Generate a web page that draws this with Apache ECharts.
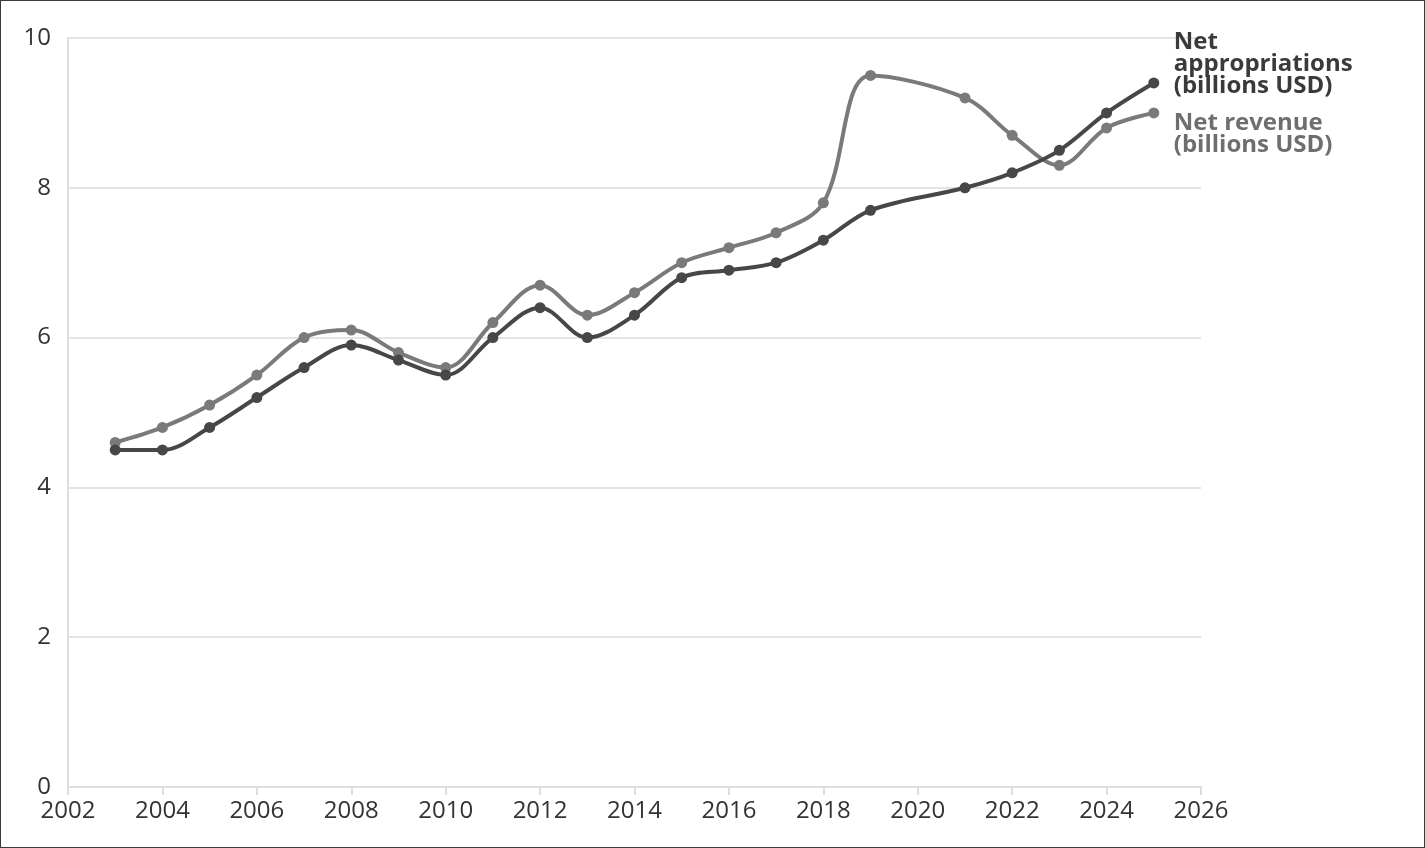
<!DOCTYPE html>
<html><head><meta charset="utf-8">
<script src="https://cdn.jsdelivr.net/npm/echarts@6/dist/echarts.min.js"></script>
<style>html,body{margin:0;padding:0;background:#fff}#chart{width:1425px;height:848px;box-sizing:border-box;border:1px solid #3a3a3a}</style>
</head><body><div id="chart"></div>
<script>
const years = [2003,2004,2005,2006,2007,2008,2009,2010,2011,2012,2013,2014,2015,2016,2017,2018,2019,2021,2022,2023,2024,2025];
const netAppropriations = [4.5,4.5,4.8,5.2,5.6,5.9,5.7,5.5,6.0,6.4,6.0,6.3,6.8,6.9,7.0,7.3,7.7,8.0,8.2,8.5,9.0,9.4];
const netRevenue = [4.6,4.8,5.1,5.5,6.0,6.1,5.8,5.6,6.2,6.7,6.3,6.6,7.0,7.2,7.4,7.8,9.5,9.2,8.7,8.3,8.8,9.0];
const seriesNames = ['Net appropriations (billions USD)','Net revenue (billions USD)'];
const labelTexts = ['Net\nappropriations\n(billions USD)','Net revenue\n(billions USD)'];

const chart = echarts.init(document.getElementById('chart'));
const font = '"Open Sans", sans-serif';
function mk(i, vals, color, labelColor, offY) {
  return {
    name: seriesNames[i], type: 'line', smooth: 0.35,
    data: years.map((y, k) => [y, vals[k]]),
    symbol: 'circle', symbolSize: 11,
    lineStyle: {color: color, width: 4},
    itemStyle: {color: color},
    z: i === 0 ? 3 : 2,
    endLabel: {show: true, formatter: labelTexts[i], color: labelColor, fontFamily: font,
      fontWeight: 'bold', fontSize: 24, lineHeight: 22, align: 'left', offset: [12, offY]},
    animation: false
  };
}
chart.setOption({
  animation: false,
  grid: {left: 67, right: 223, top: 37, bottom: 60},
  xAxis: {type: 'value', min: 2002, max: 2026, interval: 2,
    axisLine: {show: true, lineStyle: {color: '#dedede', width: 2}},
    axisTick: {show: true, length: 8, lineStyle: {color: '#dedede', width: 2}},
    splitLine: {show: false},
    axisLabel: {color: '#333', fontFamily: font, fontSize: 24, margin: 12, formatter: v => String(v)}},
  yAxis: {type: 'value', min: 0, max: 10, interval: 2,
    axisLine: {show: true, lineStyle: {color: '#dedede', width: 2}},
    axisTick: {show: false},
    splitLine: {show: true, lineStyle: {color: '#e4e4e4', width: 2}},
    axisLabel: {color: '#333', fontFamily: font, fontSize: 24, margin: 17}},
  series: [
    mk(0, netAppropriations, '#474747', '#3a3a3a', -19),
    mk(1, netRevenue, '#7a7a7a', '#6e6e6e', 21)
  ]
});
</script></body></html>
